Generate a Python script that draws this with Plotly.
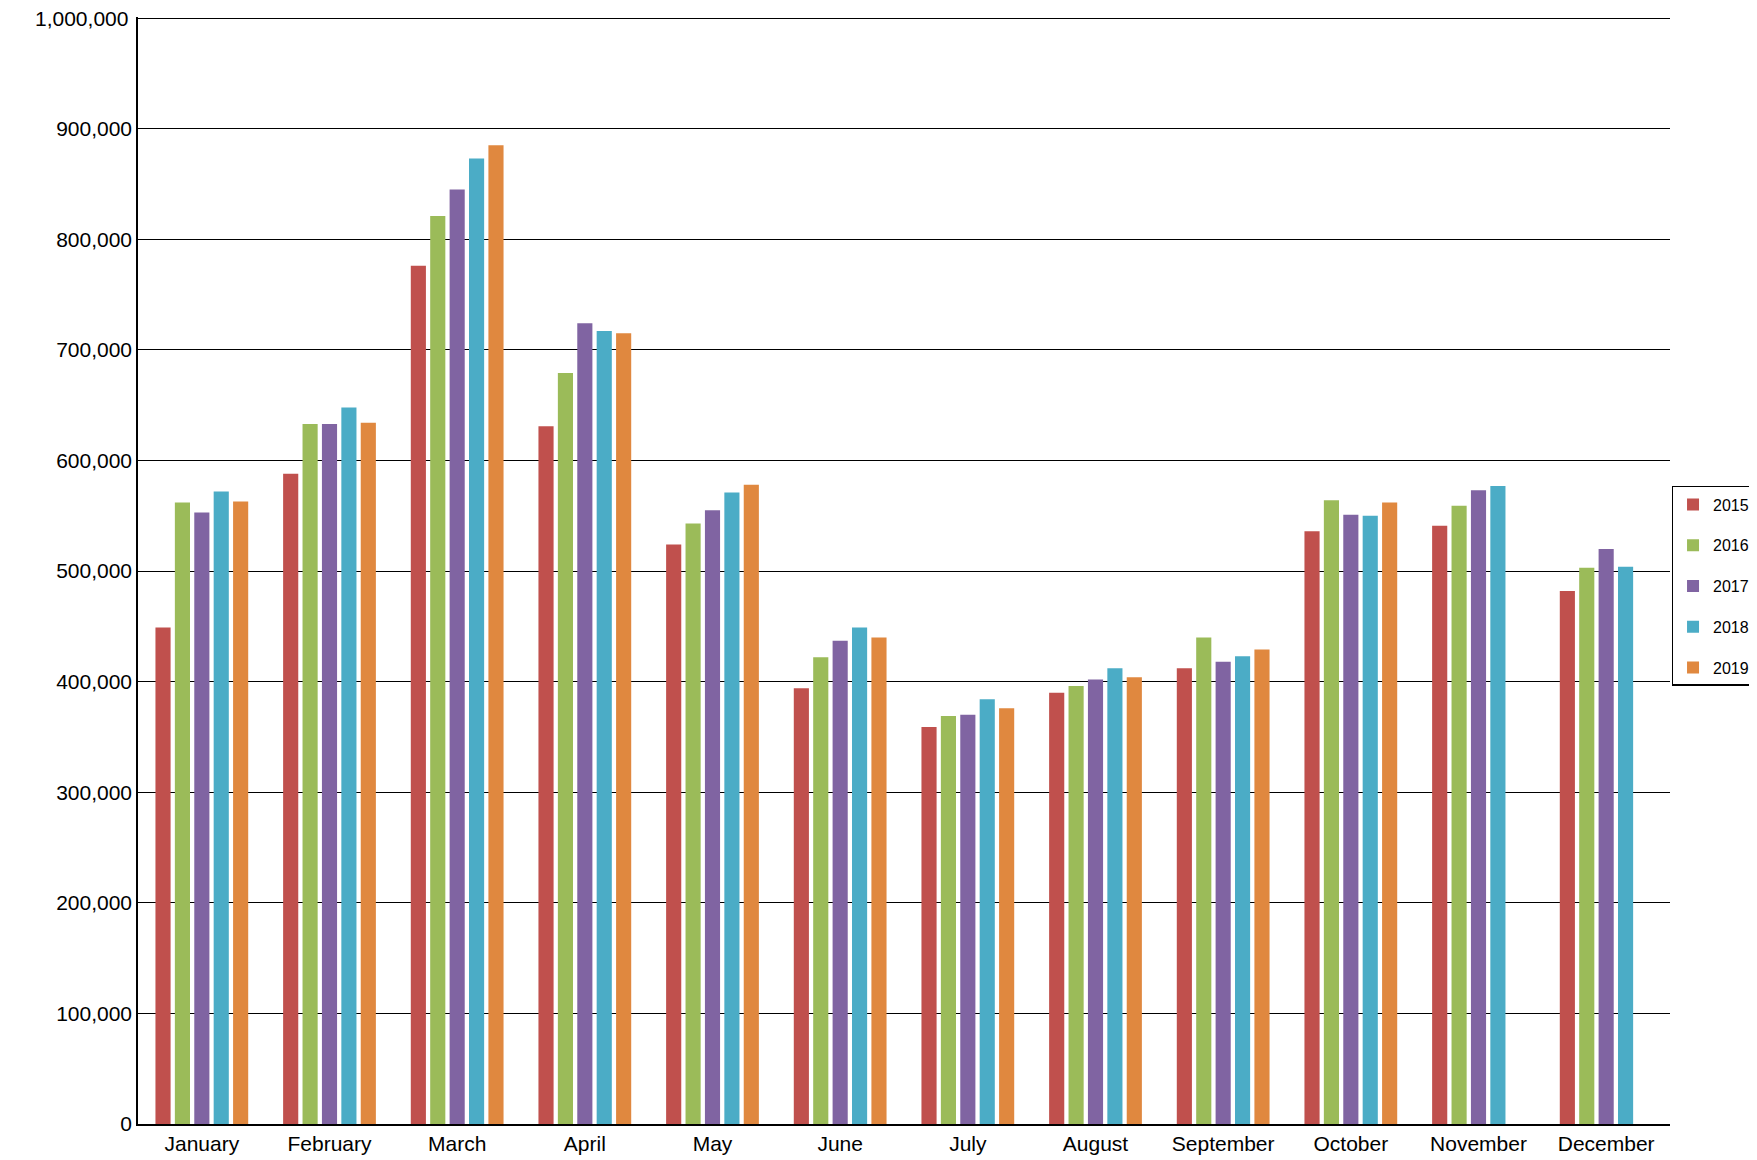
import plotly.graph_objects as go

months = ["January","February","March","April","May","June","July","August","September","October","November","December"]
years = ["2015","2016","2017","2018","2019"]
v2015 = [449000,588000,776000,631000,524000,394000,359000,390000,412000,536000,541000,482000]
v2016 = [562000,633000,821000,679000,543000,422000,369000,396000,440000,564000,559000,503000]
v2017 = [553000,633000,845000,724000,555000,437000,370000,402000,418000,551000,573000,520000]
v2018 = [572000,648000,873000,717000,571000,449000,384000,412000,423000,550000,577000,504000]
v2019 = [563000,634000,885000,715000,578000,440000,376000,404000,429000,562000,None,None]
series = [v2015,v2016,v2017,v2018,v2019]
colors = ["#C0504D","#9BBB59","#8064A2","#4BACC6","#E0883F"]

fig = go.Figure()
for y, vals, c in zip(years, series, colors):
    fig.add_bar(x=months, y=vals, name=y, marker_color=c, marker_line_width=0, legendgroup=y)

fig.update_layout(
    width=1757, height=1160, paper_bgcolor="white", plot_bgcolor="white",
    margin=dict(l=130, r=76, t=9, b=44),
    barmode="group", bargap=0.24, bargroupgap=0.22,
    font=dict(family="Liberation Sans, Arial", size=21, color="black"),
    legend=dict(x=1.001, y=0.486, xanchor="left", yanchor="middle",
                bordercolor="black", borderwidth=1.5, font=dict(size=16),
                itemwidth=30, tracegroupgap=17),
    showlegend=True,
)
fig.add_annotation(text="1,000,000", x=0, xref="paper", y=1000000, yref="y",
                   xanchor="right", yanchor="middle", xshift=-8, showarrow=False,
                   font=dict(size=21))
fig.update_xaxes(showline=True, linecolor="black", linewidth=1.5, ticks="", tickfont=dict(size=21))
fig.update_yaxes(range=[0,1001000], tickvals=[i*100000 for i in range(11)], tickformat=",",
                 showgrid=True, gridcolor="black", gridwidth=1.2, showline=True, linecolor="black",
                 linewidth=1.5, zeroline=False, tickfont=dict(size=21), ticks="")
fig.write_html("out.html")
